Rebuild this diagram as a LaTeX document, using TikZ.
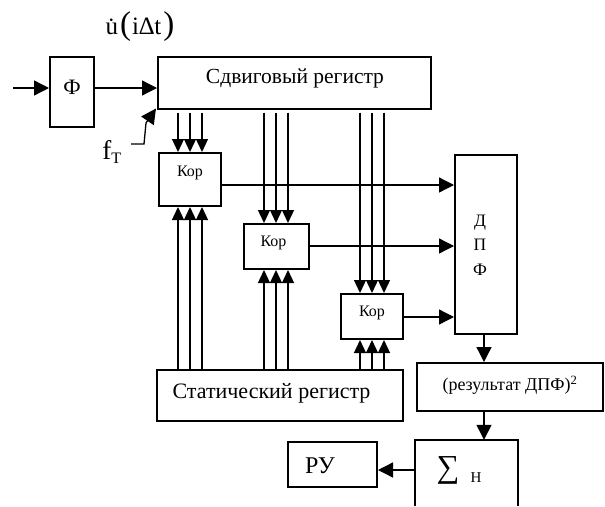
\documentclass[tikz,border=0pt]{standalone}
\usepackage{fontspec}
\setmainfont{Liberation Serif}
\usetikzlibrary{arrows.meta}
\begin{document}
\begin{tikzpicture}[x=1pt,y=-1pt,
  box/.style={draw,line width=2pt,rectangle,inner sep=0pt},
  conn/.style={line width=1.3pt},
  arr/.style={conn,-{Triangle[length=15pt,width=15pt]}},
  tri/.style={conn,-{Triangle[length=13pt,width=12pt]}},
  txt/.style={inner sep=0pt},
]
\useasboundingbox (0,0) rectangle (605,506);
% boxes
\node[box,minimum width=44pt,minimum height=70pt] (phi) at (72,92) {};
\node[txt,font=\fontsize{22}{24}\selectfont] (phit) at (72,87) {Ф};
\node[box,minimum width=273pt,minimum height=52pt] (sr) at (294.5,82.5) {};
\node[txt,font=\fontsize{21.5}{24}\selectfont] (srt) at (295,78) {Сдвиговый регистр};
\node[box,minimum width=62pt,minimum height=53pt] (k1) at (190,179.5) {};
\node[txt,font=\fontsize{16}{18}\selectfont] (k1t) at (190,173) {Кор};
\node[box,minimum width=65pt,minimum height=45pt] (k2) at (276,246.5) {};
\node[txt,font=\fontsize{16}{18}\selectfont] (k2t) at (273.5,243) {Кор};
\node[box,minimum width=62pt,minimum height=45pt] (k3) at (372,316.5) {};
\node[txt,font=\fontsize{16}{18}\selectfont] (k3t) at (372,313) {Кор};
\node[box,minimum width=62pt,minimum height=179pt] (dpf) at (486,244.5) {};
\node[txt,font=\fontsize{17.5}{24.5}\selectfont,align=center] (dpft) at (480,245) {Д\\П\\Ф};
\node[box,minimum width=246pt,minimum height=51pt] (st) at (280,395.5) {};
\node[txt,font=\fontsize{22}{24}\selectfont] (stt) at (271.5,393) {Статический регистр};
\node[box,minimum width=186pt,minimum height=48pt] (res) at (510,387) {};
\node[txt,font=\fontsize{18}{20}\selectfont] (rest) at (510,385) {(результат ДПФ)\textsuperscript{2}};
\node[minimum width=103pt,minimum height=66pt,inner sep=0pt] (sum) at (466.5,473) {};
\draw[line width=2pt] (sum.south west) -- (sum.north west) -- (sum.north east) -- (sum.south east);
\node[txt,font=\fontsize{32}{34}\selectfont] (sigma) at (448,470) {∑};
\node[txt,font=\fontsize{15}{18}\selectfont] (sumh) at (476,478) {Н};
\node[box,minimum width=89pt,minimum height=45pt] (ru) at (332.5,464.5) {};
\node[txt,font=\fontsize{24}{26}\selectfont] (rut) at (320,466) {РУ};
% labels
\node[txt,font=\fontsize{25}{28}\selectfont] (ulab) at (140,27) {\.{u}\kern2pt{\fontsize{33}{34}\selectfont(}\kern1pt i∆t\kern2pt{\fontsize{33}{34}\selectfont)}};
\node[txt,font=\fontsize{27}{30}\selectfont] (flab) at (112,152) {f\textsubscript{\fontsize{16}{18}\selectfont T}};
% input
\coordinate (in) at (13,88);
\draw[arr] (in) -- (phi.west |- in);
\draw[arr] (phi.east |- in) -- (sr.west |- in);
% clock
\coordinate (fs) at (131,144);
\draw[arr] (fs) -- (144,144) -- (146,123) -- ([xshift=-1pt,yshift=1pt]sr.south west);
% shift register to correlators
\foreach \d in {-12,0,12}{
  \draw[tri] ([xshift=\d pt,yshift=-3pt]k1.north |- sr.south) -- ([xshift=\d pt]k1.north);
  \draw[tri] ([xshift=\d pt,yshift=-3pt]k2.north |- sr.south) -- ([xshift=\d pt]k2.north);
  \draw[tri] ([xshift=\d pt,yshift=-3pt]k3.north |- sr.south) -- ([xshift=\d pt]k3.north);
  \draw[tri] ([xshift=\d pt]k1.south |- st.north) -- ([xshift=\d pt]k1.south);
  \draw[tri] ([xshift=\d pt]k2.south |- st.north) -- ([xshift=\d pt]k2.south);
  \draw[tri] ([xshift=\d pt]k3.south |- st.north) -- ([xshift=\d pt]k3.south);
}
% outputs to DPF
\draw[arr] ([yshift=-5.5pt]k1.east) -- ([yshift=-5.5pt]k1.east -| dpf.west);
\draw[arr] ([yshift=0.5pt]k2.east) -- ([yshift=0.5pt]k2.east -| dpf.west);
\draw[arr] ([yshift=-0.5pt]k3.east) -- ([yshift=-0.5pt]k3.east -| dpf.west);
% chain
\draw[arr] ([xshift=-2pt]dpf.south) -- ([xshift=-2pt]dpf.south |- res.north);
\draw[arr] ([xshift=-2pt]dpf.south |- res.south) -- ([xshift=-2pt]dpf.south |- sum.north);
\draw[arr] (sum.west |- sigma) -- (ru.east |- sigma);
\end{tikzpicture}
\end{document}
